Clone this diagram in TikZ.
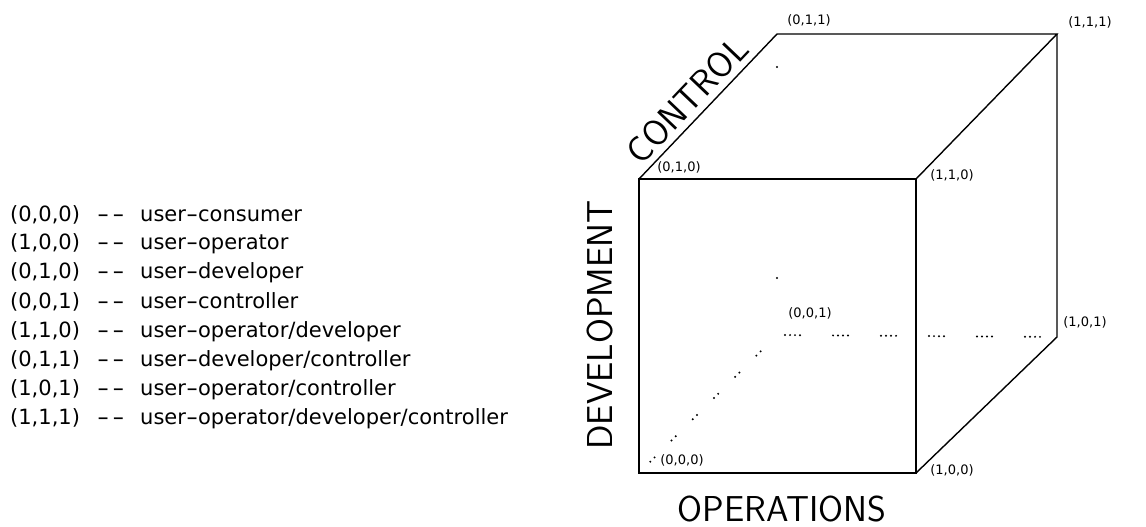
\documentclass[tikz,border=0pt]{standalone}
\usepackage{fontspec}
\usepackage{graphicx}
\newfontfamily\listfont{DejaVu Sans}
\newcommand{\hy}{\scalebox{1.6}[1]{-}}
\begin{document}
\begin{tikzpicture}[x=1pt,y=-1pt,
  edge/.style={line width=1.4pt, line join=miter},
  hidden/.style={line width=2.2pt, line cap=round},
  corner/.style={font=\listfont\fontsize{13}{13}\selectfont, inner sep=0pt},
  axis/.style={font=\sffamily\fontsize{36}{36}\selectfont, inner sep=0pt},
  row/.style={font=\listfont\fontsize{21}{21}\selectfont, anchor=west, inner sep=0pt}]
\useasboundingbox (0,0) rectangle (1146,527);
% cube corners
\coordinate (A) at (639,473);  % (0,0,0)
\coordinate (B) at (916,473);  % (1,0,0)
\coordinate (C) at (639,179);  % (0,1,0)
\coordinate (D) at (916,179);  % (1,1,0)
\coordinate (E) at (777,34);   % (0,1,1)
\coordinate (F) at (1057,34);  % (1,1,1)
\coordinate (G) at (1057,337); % (1,0,1)
\coordinate (H) at (777,335);  % (0,0,1)
% hidden edges
\draw[hidden, dash pattern=on 0pt off 6pt on 0pt off 24pt, dash phase=14pt] (A) -- (H);
\draw[hidden, dash pattern=on 0pt off 211pt, dash phase=178pt] (E) -- (H);
\draw[hidden, dash pattern=on 0pt off 5pt on 0pt off 5pt on 0pt off 5pt on 0pt off 33pt, dash phase=40pt] (H) -- (G);
% visible edges
\draw[edge] (A) -- (B) -- (D) -- (C) -- cycle;
\draw[edge] (C) -- (E) -- (F) -- (D);
\draw[edge] (F) -- (G) -- (B);
% corner labels
\node[corner] (lA) at (682,460) {(0,0,0)};
\node[corner] (lB) at (952,470) {(1,0,0)};
\node[corner] (lC) at (679,167) {(0,1,0)};
\node[corner] (lD) at (952,175) {(1,1,0)};
\node[corner] (lE) at (809,20) {(0,1,1)};
\node[corner] (lF) at (1090,22) {(1,1,1)};
\node[corner] (lG) at (1085,322) {(1,0,1)};
\node[corner] (lH) at (810,313) {(0,0,1)};
% axis labels
\node[axis] (ops) at (782,509) {OPERATIONS};
\node[axis, rotate=90] (dev) at (600,325) {DEVELOPMENT};
\node[axis, rotate=46.4] (ctl) at (687,100) {CONTROL};
% legend
\newcommand{\legrow}[2]{\makebox[87pt][l]{#1}\makebox[43pt][l]{\hy\kern3pt\hy}#2}
\node[row] (r1) at (10,215) {\legrow{(0,0,0)}{user\hy consumer}};
\node[row] (r2) at (10,244) {\legrow{(1,0,0)}{user\hy operator}};
\node[row] (r3) at (10,273) {\legrow{(0,1,0)}{user\hy developer}};
\node[row] (r4) at (10,302) {\legrow{(0,0,1)}{user\hy controller}};
\node[row] (r5) at (10,332) {\legrow{(1,1,0)}{user\hy operator/developer}};
\node[row] (r6) at (10,361) {\legrow{(0,1,1)}{user\hy developer/controller}};
\node[row] (r7) at (10,390) {\legrow{(1,0,1)}{user\hy operator/controller}};
\node[row] (r8) at (10,419) {\legrow{(1,1,1)}{user\hy operator/developer/controller}};
\end{tikzpicture}
\end{document}
